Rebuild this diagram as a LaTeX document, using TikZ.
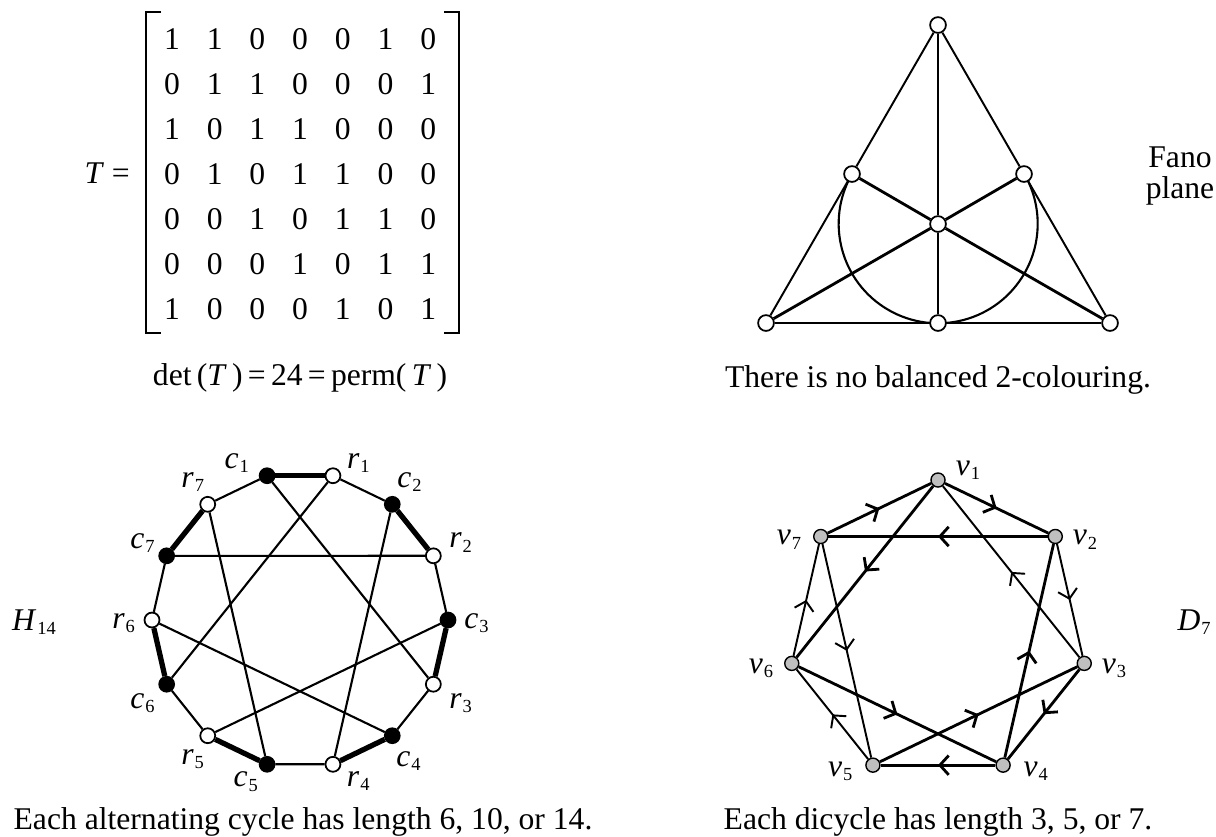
\documentclass[tikz,border=0pt]{standalone}
\usepackage{fontspec}
\setmainfont{Liberation Serif}
\usetikzlibrary{arrows.meta,decorations.markings}

\newcommand{\lbl}[2]{\textit{#1}\kern.03em\raisebox{-.3ex}{\fontsize{10.5}{11}\selectfont #2}}

\begin{document}
\begin{tikzpicture}[x=0.02cm,y=-0.02cm,font=\fontsize{18}{18}\selectfont,
  rnode/.style={circle,draw,fill=white,line width=1pt,inner sep=0pt,minimum size=8.5pt},
  cnode/.style={rnode,fill=black},
  fnode/.style={rnode,minimum size=9pt},
  vnode/.style={circle,draw,fill=black!25,line width=.8pt,inner sep=0pt,minimum size=8pt},
  hedge/.style={line width=1.2pt},
  hmatch/.style={line width=3pt},
  darc/.style={line width=#1,postaction={decorate},
    decoration={markings,mark=at position .5 with {\arrow{Straight Barb[length=5pt,width=11pt]}}}},
  darc/.default=1.6pt]
\useasboundingbox (0,0) rectangle (1216,836);

% the matrix T
\node[anchor=east] (teq) at (136,173) {\textit{T} =};
\foreach \row [count=\ix] in {{1,1,0,0,0,1,0},{0,1,1,0,0,0,1},{1,0,1,1,0,0,0},{0,1,0,1,1,0,0},{0,0,1,0,1,1,0},{0,0,0,1,0,1,1},{1,0,0,0,1,0,1}}
  \foreach \e [count=\jx] in \row
    \node (t\ix\jx) at ({129.3+42.7*\jx},{-6+45*\ix}) {\e};
\draw[line width=1.3pt] (161,12) -- (146,12) -- (146,333) -- (161,333);
\draw[line width=1.3pt] (444,12) -- (459,12) -- (459,333) -- (444,333);
\node (det) at (300,378) {det\,(\textit{T}\,)\,=\,24\,=\,perm(\,\textit{T}\,)};

% Fano plane
\draw[line width=1.2pt] (852,174) arc[start angle=210,end angle=-30,radius=99.5];
\node[fnode] (fa) at (938,25) {};
\node[fnode] (fl) at (852,174) {};
\node[fnode] (fr) at (1024,174) {};
\node[fnode] (fc) at (938,224) {};
\node[fnode] (fbl) at (766,323) {};
\node[fnode] (fbm) at (938,323) {};
\node[fnode] (fbr) at (1110,323) {};
\foreach \a/\b in {fa/fl,fl/fbl,fa/fr,fr/fbr,fa/fc,fc/fbm}
  \draw[line width=1.1pt] (\a) -- (\b);
\foreach \a/\b in {fl/fc,fc/fbr,fr/fc,fc/fbl,fbl/fbm,fbm/fbr}
  \draw[line width=1.6pt] (\a) -- (\b);
\node[align=center] (fano) at (1180,176) {Fano\\plane};
\node (fcap) at (938,380) {There is no balanced 2-colouring.};

% H_14
\foreach \n/\lt/\ix/\s/\la/\ld [count=\k] in {c1/c/1/cnode/157/14,r1/r/1/rnode/27/11.5,c2/c/2/cnode/52/11.2,
    r2/r/2/rnode/26/12.5,c3/c/3/cnode/-6/11.5,r3/r/3/rnode/-35/14.2,c4/c/4/cnode/-57/12.3,r4/r/4/rnode/-34/12.6,
    c5/c/5/cnode/-141/10.8,r5/r/5/rnode/-123/11,c6/c/6/cnode/-142/12.8,r6/r/6/rnode/-174/11.5,
    c7/c/7/cnode/152/10.9,r7/r/7/rnode/124/10.5}
  \node[\s,label={[anchor=center,label distance=\ld pt]\la:{\lbl{\lt}{\ix}}}] (\n)
    at ({300+148*cos(102.857-25.714*(\k-1))},{620-148*sin(102.857-25.714*(\k-1))}) {};
\foreach \a/\b in {c1/r1,c2/r2,c3/r3,c4/r4,c5/r5,c6/r6,c7/r7}
  \draw[hmatch] (\a) -- (\b);
\foreach \a/\b in {r1/c2,r2/c3,r3/c4,r4/c5,r5/c6,r6/c7,r7/c1,c1/r3,r1/c6,c2/r4,r2/c7,c3/r5,r6/c4,r7/c5}
  \draw[hedge] (\a) -- (\b);
\node (h14) at (34,622) {\lbl{H}{14}};
\node (hcap) at (303,822) {Each alternating cycle has length 6, 10, or 14.};

% D_7
\foreach \k/\la/\ld in {1/18/13.5,2/-6/12.6,3/-10/12.8,4/-11/14.5,5/-169/14.5,6/-171/13.4,7/-174/13.8}
  \node[vnode,label={[anchor=center,label distance=\ld pt]\la:{\lbl{v}{\k}}}] (v\k)
    at ({938+150*cos(90-51.4286*(\k-1))},{630-150*sin(90-51.4286*(\k-1))}) {};
\foreach \a/\b in {7/1,1/2,3/4,4/5,2/7,1/6,6/4,5/3,4/2}
  \draw[darc] (v\a) -- (v\b);
\foreach \a/\b in {2/3,5/6,6/7,3/1,7/5}
  \draw[darc=1.1pt] (v\a) -- (v\b);
\node (d7) at (1194,622) {\lbl{D}{7}};
\node (dcap) at (938,822) {Each dicycle has length 3, 5, or 7.};
\end{tikzpicture}
\end{document}
